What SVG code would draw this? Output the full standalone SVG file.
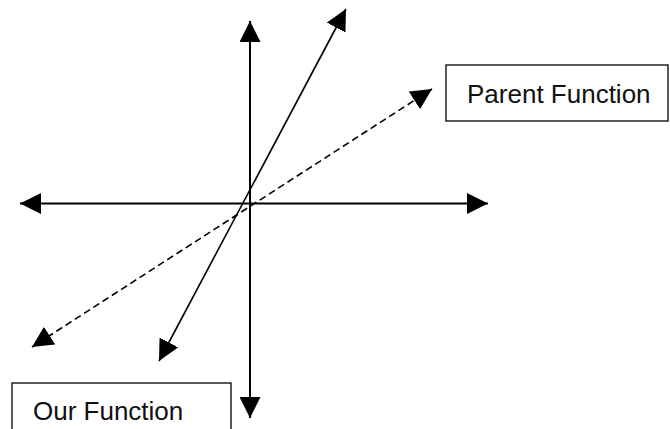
<svg xmlns="http://www.w3.org/2000/svg" width="670" height="429" viewBox="0 0 670 429">
  <style>
    .ax { stroke: #000; stroke-width: 2; fill: none; }
    .ln { stroke: #000; stroke-width: 1.6; fill: none; }
    .dash { stroke-dasharray: 7 4; }
    .box { fill: #fff; stroke: #000; stroke-width: 1.3; }
    .lbl { font-family: "Liberation Sans", Arial, sans-serif; font-size: 26px; fill: #111; }
  </style>
  <defs>
    <marker id="ah" markerUnits="userSpaceOnUse" markerWidth="21" markerHeight="21" refX="20" refY="10" orient="auto-start-reverse" viewBox="0 0 20 20">
      <path d="M0,0 L20,10 L0,20 z" fill="#000"/>
    </marker>
  </defs>
  <rect width="670" height="429" fill="#fff"/>
  <g id="connectors">
    <line class="ax" x1="250" y1="21" x2="250" y2="418" marker-start="url(#ah)" marker-end="url(#ah)"/>
    <line class="ax" x1="20" y1="203.5" x2="488" y2="203.5" marker-start="url(#ah)" marker-end="url(#ah)"/>
    <line class="ln" x1="346" y1="9" x2="159" y2="361" marker-start="url(#ah)" marker-end="url(#ah)"/>
    <line class="ln dash" x1="432" y1="89" x2="32" y2="347" marker-start="url(#ah)" marker-end="url(#ah)"/>
  </g>
  <g id="parent-function">
    <rect class="box" x="446" y="65" width="222" height="56"/>
    <text class="lbl" x="467" y="103">Parent Function</text>
  </g>
  <g id="our-function">
    <rect class="box" x="12" y="383" width="219" height="60"/>
    <text class="lbl" x="33" y="420">Our Function</text>
  </g>
</svg>
